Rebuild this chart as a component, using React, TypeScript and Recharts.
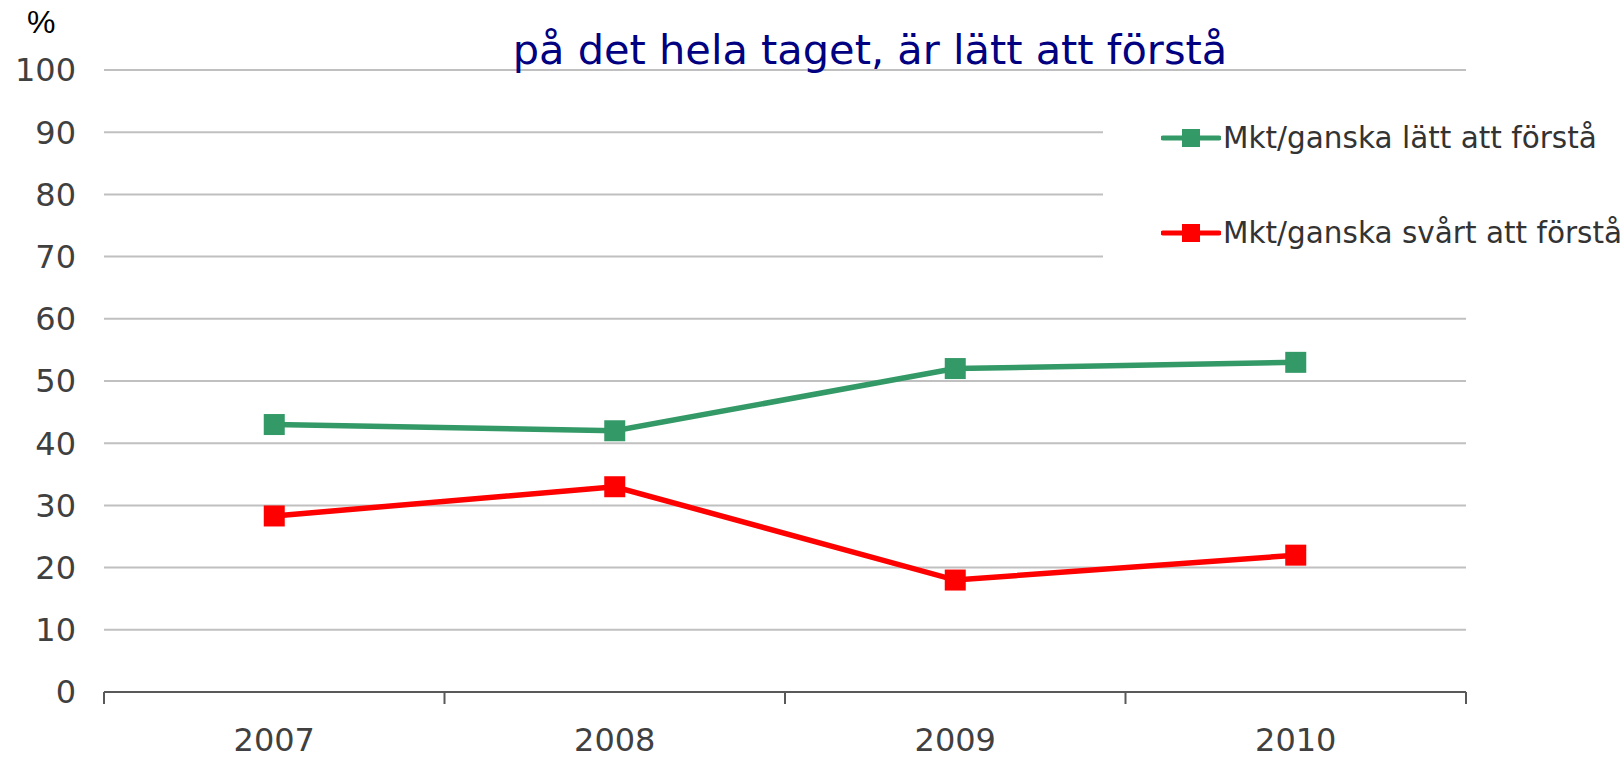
import React from 'react';
import { LineChart, Line, XAxis, YAxis, CartesianGrid } from 'recharts';

const categories = ['2007', '2008', '2009', '2010'];
const easyValues = [43, 42, 52, 53];
const hardValues = [28.3, 33, 18, 22];
const seriesNames = ['Mkt/ganska lätt att förstå', 'Mkt/ganska svårt att förstå'];
const seriesColors = ['#339966', '#FF0000'];
const yTicks = [0, 10, 20, 30, 40, 50, 60, 70, 80, 90, 100];
const titleLine = 'på det hela taget, är lätt att förstå';

const data = categories.map((c, i) => ({ x: i + 0.5, cat: c, easy: easyValues[i], hard: hardValues[i] }));
const xTicks: number[] = [];
for (let i = 0; i <= categories.length; i++) {
  xTicks.push(i);
  if (i < categories.length) xTicks.push(i + 0.5);
}

const FONT = 'DejaVu Sans, Verdana, sans-serif';

const XTick = (props: any) => {
  const { x, y, payload } = props;
  const v = payload.value;
  if (Number.isInteger(v)) {
    return <line x1={x} y1={y} x2={x} y2={y + 12} stroke="#595959" strokeWidth={2} />;
  }
  return (
    <text x={x} y={y + 59} textAnchor="middle" fill="#404040" fontSize={32} fontFamily={FONT}>
      {categories[Math.floor(v)]}
    </text>
  );
};

const makeDot = (color: string) => (p: any) => (
  <rect key={`d-${color}-${p.index}`} x={p.cx - 10.5} y={p.cy - 10.5} width={21} height={21} fill={color} />
);

const LegendBox = () => (
  <div style={{ position: 'absolute', left: 1103, top: 104, background: '#fff', width: 521, height: 186 }}>
    {seriesNames.map((name, i) => (
      <div
        key={name}
        style={{ position: 'absolute', left: 0, top: 34 + i * 95 - 20, height: 40, display: 'flex', alignItems: 'center' }}
      >
        <svg width={60} height={40} style={{ marginLeft: 58 }}>
          <line x1={2} y1={20} x2={58} y2={20} stroke={seriesColors[i]} strokeWidth={5} strokeLinecap="round" />
          <rect x={21} y={11} width={18} height={18} fill={seriesColors[i]} />
        </svg>
        <span style={{ fontFamily: FONT, fontSize: 29.5, color: '#333', marginLeft: 2, whiteSpace: 'nowrap' }}>{name}</span>
      </div>
    ))}
  </div>
);

export default function App() {
  return (
    <div style={{ position: 'absolute', left: 0, top: 0, width: 1624, height: 758, background: '#fff', overflow: 'hidden' }}>
      <LineChart width={1624} height={758} data={data} margin={{ top: 70, right: 158, bottom: 6, left: 0 }}>
        <CartesianGrid vertical={false} stroke="#c0c0c0" strokeWidth={2} />
        <XAxis
          dataKey="x"
          type="number"
          domain={[0, categories.length]}
          ticks={xTicks}
          interval={0}
          tickLine={false}
          tickSize={0}
          tickMargin={0}
          height={60}
          axisLine={{ stroke: '#595959', strokeWidth: 2 }}
          tick={<XTick />}
        />
        <YAxis
          domain={[0, 100]}
          ticks={yTicks}
          interval={0}
          width={104}
          axisLine={false}
          tickLine={false}
          tickSize={0}
          tickMargin={28}
          tick={{ fill: '#404040', fontSize: 32, fontFamily: FONT }}
        />
        <Line
          dataKey="easy"
          name={seriesNames[0]}
          stroke={seriesColors[0]}
          strokeWidth={5.5}
          dot={makeDot(seriesColors[0])}
          activeDot={false}
          isAnimationActive={false}
        />
        <Line
          dataKey="hard"
          name={seriesNames[1]}
          stroke={seriesColors[1]}
          strokeWidth={5.5}
          dot={makeDot(seriesColors[1])}
          activeDot={false}
          isAnimationActive={false}
        />
      </LineChart>
      <LegendBox />
      <div
        style={{
          position: 'absolute', left: 370, width: 1000, top: 29, textAlign: 'center',
          fontFamily: FONT, fontSize: 41.5, lineHeight: '41px', color: '#000080', whiteSpace: 'nowrap',
        }}
      >
        {titleLine}
      </div>
      <div
        style={{
          position: 'absolute', left: 27, top: 6, fontFamily: 'Liberation Sans, Arial, sans-serif',
          fontSize: 32, lineHeight: '32px', color: '#000',
        }}
      >
        %
      </div>
    </div>
  );
}
